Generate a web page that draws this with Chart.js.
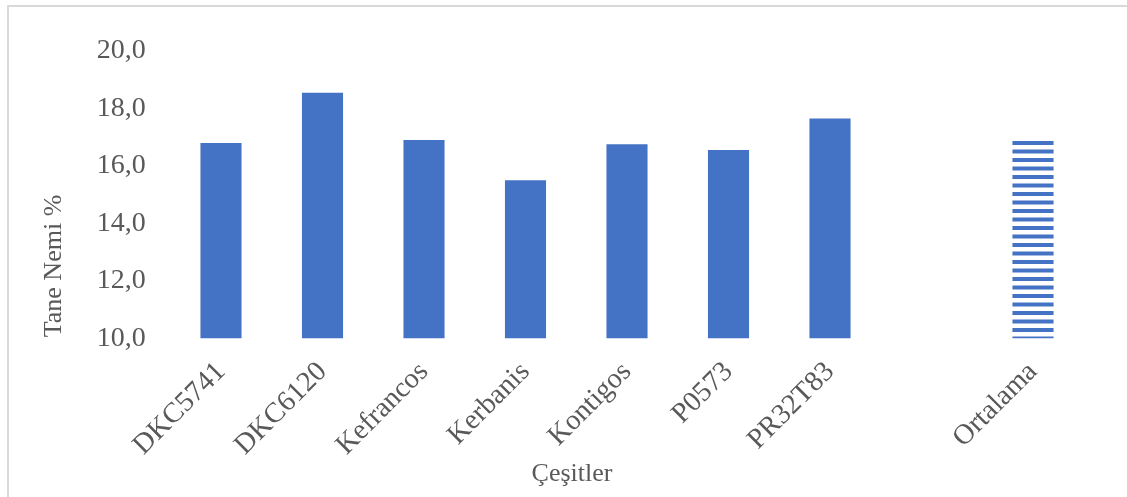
<!DOCTYPE html>
<html>
<head>
<meta charset="utf-8">
<script src="https://cdn.jsdelivr.net/npm/chart.js@4"></script>
<style>
  html, body { margin:0; padding:0; background:#fff; }
  #wrap { position:relative; width:1127px; height:497px; overflow:hidden; }
  #frame { position:absolute; left:7px; top:5px; width:1130px; height:500px; border:2px solid #d9d9d9; box-sizing:border-box; pointer-events:none; }
  canvas { position:absolute; left:0; top:0; }
</style>
</head>
<body>
<div id="wrap">
  <canvas id="c" width="1127" height="497"></canvas>
  <div id="frame"></div>
</div>
<script>
// data
const cesitler = ["DKC5741","DKC6120","Kefrancos","Kerbanis","Kontigos","P0573","PR32T83","","Ortalama"]
const nem = [16.8, 18.55, 16.9, 15.5, 16.75, 16.55, 17.65, null, 16.95]
const y_min = 10
const y_max = 20
const y_step = 2

const mavi = "#4472C4"
const yazi = "#595959"
const font_name = "'Liberation Serif', 'Times New Roman', serif"

// striped fill for the average bar
function make_stripes(){
    let pc = document.createElement("canvas")
    pc.width = 8
    pc.height = 17
    let px = pc.getContext("2d")
    px.fillStyle = mavi
    px.fillRect(0, 5, 8, 4)
    px.fillRect(0, 13.5, 8, 3.5)
    px.fillRect(0, 0, 8, 0.5)
    return px.createPattern(pc, "repeat")
}

const canvas = document.getElementById("c")
const ctx = canvas.getContext("2d")
const stripes = make_stripes()

let renkler = []
for (let i = 0; i < cesitler.length; i++){
    renkler.push(cesitler[i] == "Ortalama" ? stripes : mavi)
}

const basliklar = {
    id: "basliklar",
    afterDraw(chart){
        let c = chart.ctx
        c.save()
        c.fillStyle = yazi
        c.font = "26px " + font_name
        c.textAlign = "center"
        c.textBaseline = "alphabetic"
        c.fillText("Çeşitler", 572, 481)
        c.translate(61, 266)
        c.rotate(-Math.PI/2)
        c.fillText("Tane Nemi %", 0, 0)
        c.restore()
    }
}

const chart = new Chart(ctx, {
    type: "bar",
    data: {
        labels: cesitler,
        datasets: [{
            data: nem,
            backgroundColor: renkler,
            borderWidth: 0,
            barPercentage: 0.81,
            categoryPercentage: 0.5
        }]
    },
    options: {
        responsive: false,
        animation: false,
        layout: { padding: { left: 0, right: 43.25, top: 51, bottom: 0 } },
        plugins: { legend: { display: false }, tooltip: { enabled: false } },
        scales: {
            x: {
                offset: true,
                grid: { display: false, drawTicks: false },
                border: { display: false },
                ticks: {
                    color: yazi,
                    font: { family: font_name, size: 28.5 },
                    minRotation: 45,
                    maxRotation: 45,
                    autoSkip: false,
                    padding: 17
                },
                afterFit(s){ s.height = 158.7 }
            },
            y: {
                min: y_min,
                max: y_max,
                grid: { display: false, drawTicks: false },
                border: { display: false },
                ticks: {
                    stepSize: y_step,
                    color: yazi,
                    font: { family: font_name, size: 28 },
                    padding: 24.5,
                    callback: (v) => v.toFixed(1).replace(".", ",")
                },
                afterFit(s){ s.width = 170.25 }
            }
        }
    },
    plugins: [basliklar]
})
</script>
</body>
</html>
